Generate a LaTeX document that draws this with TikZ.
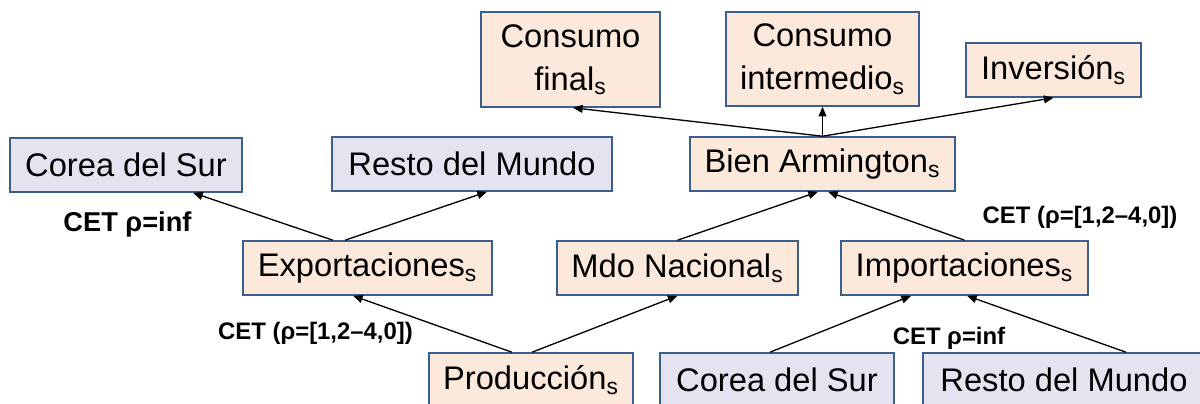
\documentclass[tikz,border=0pt]{standalone}
\usepackage{fontspec}
\setmainfont{Liberation Sans}
\usepackage{tikz}
\usetikzlibrary{
    arrows.meta,
    calc
}
\definecolor{peach}{RGB}{252,233,219}
\definecolor{lavender}{RGB}{230,227,240}
\definecolor{boxblue}{RGB}{58,95,140}
\tikzstyle{sector} = [
    rectangle,
    draw=boxblue,
    line width=0.9pt,
    fill=peach,
    minimum height=1.08cm,
    inner sep=0pt,
    align=center,
    font=\fontsize{18.6}{24.5}\selectfont
]
\tikzstyle{region} = [
    sector,
    fill=lavender
]
\tikzstyle{cet} = [
    inner sep=0pt,
    anchor=base,
    font=\bfseries\fontsize{13.6}{16}\selectfont
]
\tikzstyle{arrow} = [
    -{Triangle[length=5.5pt,width=4.5pt]},
    line width=0.75pt,
    draw=black
]

\begin{document}
\begin{tikzpicture}[x=0.02cm, y=-0.02cm]
        \useasboundingbox (0,0) rectangle (1200,403);

        % Demand side
        \node[sector, minimum width=3.58cm, minimum height=1.9cm] (cfinal) at (570.5,59.5) {Consumo\\final\textsubscript{s}};
        \node[sector, minimum width=3.86cm, minimum height=1.88cm] (cinter) at (822.5,59) {Consumo\\intermedio\textsubscript{s}};
        \node[sector, minimum width=3.5cm] (inversion) at (1053.5,70) {Inversión\textsubscript{s}};

        % Armington composite
        \node[sector, minimum width=5.3cm] (armington) at (822.5,164) {Bien Armington\textsubscript{s}};

        % Export destinations
        \node[region, minimum width=4.64cm] (coreaA) at (126,165) {Corea del Sur};
        \node[region, minimum width=5.6cm] (restoA) at (472,164) {Resto del Mundo};

        % Middle level
        \node[sector, minimum width=4.98cm] (expo) at (367.5,268) {Exportaciones\textsubscript{s}};
        \node[sector, minimum width=4.82cm] (mdo) at (677.5,268) {Mdo Nacional\textsubscript{s}};
        \node[sector, minimum width=4.94cm] (impo) at (964.5,268) {Importaciones\textsubscript{s}};

        % Bottom level
        \node[sector, minimum width=4.08cm] (produccion) at (531,380) {Producción\textsubscript{s}};
        \node[region, minimum width=4.68cm] (coreaB) at (777,380) {Corea del Sur};
        \node[region, minimum width=5.64cm] (restoB) at (1064,380) {Resto del Mundo};

        % Elasticities
        \node[cet, font=\bfseries\fontsize{15.5}{18}\selectfont] (cetexpo) at (127.5,231) {CET ρ=inf};
        \node[cet] (cetprod) at (315.5,339) {CET (ρ=[1,2–4,0])};
        \node[cet] (cetarm) at (1080,223) {CET (ρ=[1,2–4,0])};
        \node[cet] (cetimpo) at (949,344) {CET ρ=inf};

        % Arrows
        \draw[arrow] ($(expo.north)+(-34.5,0)$) -- ($(coreaA.south)+(67,0)$);
        \draw[arrow] ($(expo.north)+(-22.5,0)$) -- ($(restoA.south)+(15,0)$);
        \draw[arrow] ($(produccion.north)+(-19,0)$) -- ($(expo.south)+(-14.5,0)$);
        \draw[arrow] ($(produccion.north)+(1,0)$) -- (mdo.south);
        \draw[arrow] (mdo.north) -- ($(armington.south)+(-4.5,0)$);
        \draw[arrow] (impo.north) -- ($(armington.south)+(5.5,0)$);
        \draw[arrow] ($(coreaB.north)+(-7,0)$) -- ($(impo.south)+(-53.5,0)$);
        \draw[arrow] ($(restoB.north)+(62,0)$) -- ($(impo.south)+(2.5,0)$);
        \draw[arrow] (armington.north) -- ($(cfinal.south)+(2.5,0)$);
        \draw[arrow] (armington.north) -- (cinter.south);
        \draw[arrow] (armington.north) -- (inversion.south);
    \end{tikzpicture}
\end{document}
